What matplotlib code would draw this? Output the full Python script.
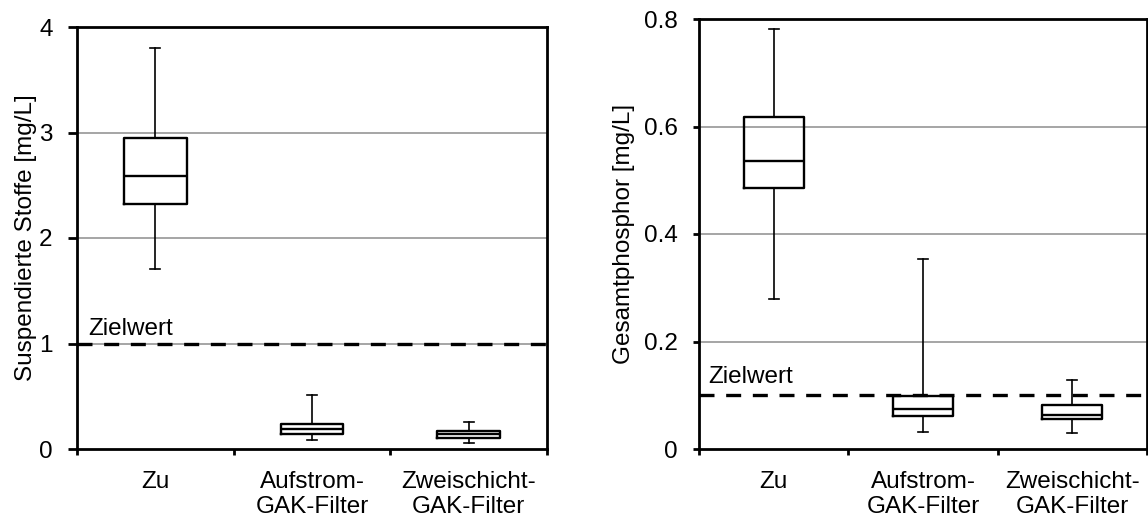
import matplotlib
matplotlib.use("Agg")
import matplotlib.pyplot as plt

categories = ["Zu", "Aufstrom-\nGAK-Filter", "Zweischicht-\nGAK-Filter"]

# Suspendierte Stoffe [mg/L]: whislo, q1, med, q3, whishi
ss_whislo = [1.71, 0.085, 0.054]
ss_q1 = [2.32, 0.14, 0.107]
ss_med = [2.59, 0.19, 0.14]
ss_q3 = [2.945, 0.24, 0.17]
ss_whishi = [3.80, 0.51, 0.26]
ss_target = 1.0

# Gesamtphosphor [mg/L]
tp_whislo = [0.279, 0.032, 0.030]
tp_q1 = [0.486, 0.062, 0.055]
tp_med = [0.536, 0.075, 0.064]
tp_q3 = [0.617, 0.098, 0.081]
tp_whishi = [0.781, 0.354, 0.129]
tp_target = 0.1

plt.rcParams['font.family'] = ['Liberation Sans', 'DejaVu Sans']
plt.rcParams['font.size'] = 17.5

fig = plt.figure(figsize=(11.48, 5.16), dpi=100)
W, H = 1148, 516
axL = fig.add_axes([77 / W, (H - 449) / H, 470 / W, 422 / H])
axR = fig.add_axes([699 / W, (H - 449) / H, 448 / W, 430 / H])


def draw(ax, lo, q1, med, q3, hi, target, ylim, yticks, yticklabels, ylabel,
         ztxt_x, ztxt_y, ytick_len):
    stats = []
    for i in range(len(categories)):
        stats.append(dict(whislo=lo[i], q1=q1[i], med=med[i], q3=q3[i], whishi=hi[i], fliers=[]))
    pos = [i + 0.5 for i in range(len(categories))]
    ax.bxp(stats, positions=pos, widths=0.40, showfliers=False,
           boxprops=dict(color="black", linewidth=1.7),
           medianprops=dict(color="black", linewidth=1.7),
           whiskerprops=dict(color="black", linewidth=1.2),
           capprops=dict(color="black", linewidth=1.2),
           capwidths=0.065, zorder=3)
    ax.set_xlim(0, len(categories))
    ax.set_ylim(*ylim)
    ax.set_yticks(yticks)
    ax.set_yticklabels(yticklabels)
    ax.set_xticks(range(len(categories) + 1))
    ax.set_xticklabels([])
    ax.set_xticks(pos, minor=True)
    ax.set_xticklabels(categories, minor=True, linespacing=1.18)
    ax.tick_params(axis="x", which="minor", length=0, pad=15.5)
    ax.tick_params(axis="x", which="major", direction="out", length=4.5, width=2)
    ax.tick_params(axis="y", direction="out", length=ytick_len, width=2, pad=11)
    for g in yticks[1:-1]:
        ax.axhline(g, color="#969696", linewidth=1.2, zorder=1)
    line = ax.axhline(target, color="black", linewidth=2.4, zorder=5)
    line.set_dashes((4.5, 3.5))
    ax.text(ztxt_x, ztxt_y, "Zielwert", transform=ax.get_yaxis_transform(),
            ha="left", va="baseline")
    for s in ax.spines.values():
        s.set_linewidth(2)
        s.set_color("black")
    ax.set_ylabel(ylabel)


draw(axL, ss_whislo, ss_q1, ss_med, ss_q3, ss_whishi, ss_target, (0, 4),
     [0, 1, 2, 3, 4], ["0", "1", "2", "3", "4"], "Suspendierte Stoffe [mg/L]",
     0.023, 1.076, 6.5)
draw(axR, tp_whislo, tp_q1, tp_med, tp_q3, tp_whishi, tp_target, (0, 0.8),
     [0, 0.2, 0.4, 0.6, 0.8], ["0", "0.2", "0.4", "0.6", "0.8"], "Gesamtphosphor [mg/L]",
     0.02, 0.122, 4.5)

axL.yaxis.set_label_coords(-0.085, 0.5)
axR.yaxis.set_label_coords(-0.143, 0.5)

fig.savefig("out.png", dpi=100)
